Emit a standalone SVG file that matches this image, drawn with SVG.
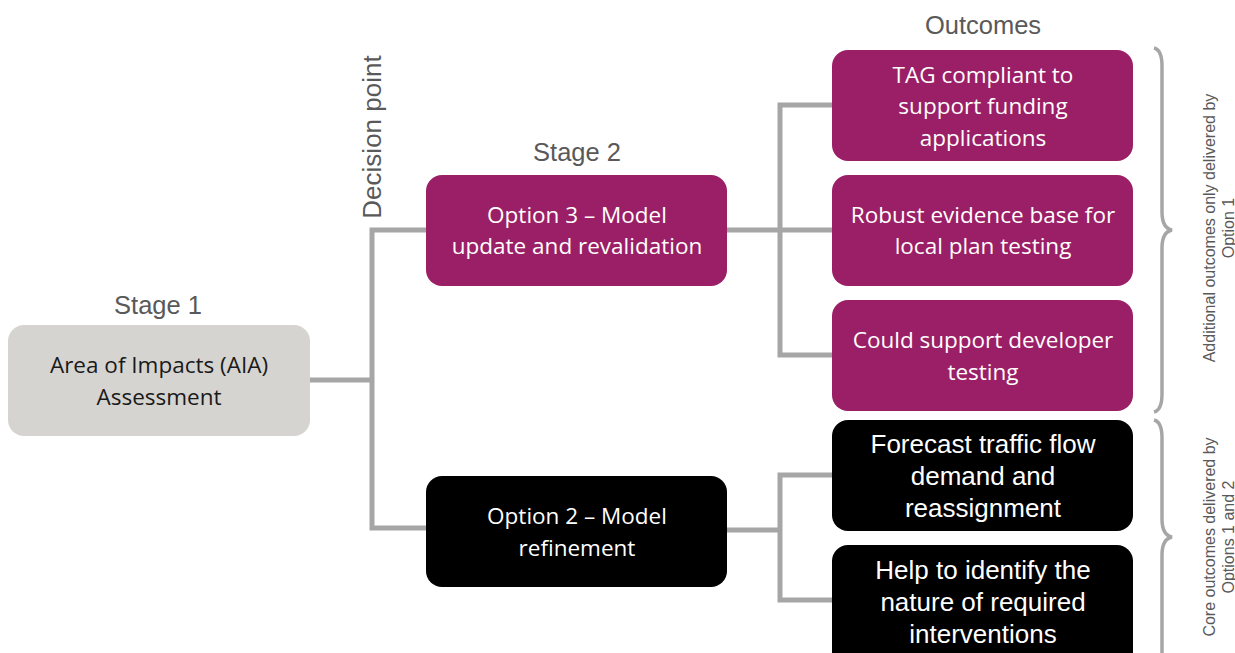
<svg xmlns="http://www.w3.org/2000/svg" width="1235" height="653" viewBox="0 0 1235 653">
  <style>
    .lbl { font-family: "Liberation Sans", Arial, sans-serif; fill: #595959; text-anchor: middle; }
    .stage { font-size: 25.5px; }
    .side { font-size: 16px; }
    .box-grey { fill: #d6d4d0; }
    .box-mag { fill: #9b1f66; }
    .box-blk { fill: #000000; }
    .t-calibri { font-family: "Open Sans", "Noto Sans", sans-serif; font-size: 22.5px; text-anchor: middle; }
    .t-arial { font-family: "Liberation Sans", Arial, sans-serif; font-size: 26px; text-anchor: middle; fill: #ffffff; }
    .dark { fill: #1a1a1a; }
    .white { fill: #ffffff; }
    .conn { fill: none; stroke: #a6a6a6; stroke-width: 5; }
    .brace { fill: none; stroke: #a6a6a6; stroke-width: 3.5; }
  </style>

  <!-- Headings -->
  <text class="lbl stage" x="158" y="314">Stage 1</text>
  <text class="lbl stage" x="577" y="161">Stage 2</text>
  <text class="lbl stage" x="983" y="34">Outcomes</text>
  <text class="lbl stage" style="font-size:26px" transform="translate(381,137) rotate(-90)">Decision point</text>

  <!-- Connectors -->
  <g id="connectors">
    <path class="conn" d="M310,380 H372"/>
    <path class="conn" d="M427,230 H372 V528 H427"/>
    <path class="conn" d="M727,230 H833"/>
    <path class="conn" d="M833,105 H780 V355 H833"/>
    <path class="conn" d="M727,530 H780"/>
    <path class="conn" d="M833,475 H780 V600 H833"/>
  </g>

  <!-- Stage 1 -->
  <g id="aia">
    <rect class="box-grey" x="8" y="325" width="302" height="111" rx="16"/>
    <text class="t-calibri dark" x="159" y="373">Area of Impacts (AIA)</text>
    <text class="t-calibri dark" x="159" y="405">Assessment</text>
  </g>

  <!-- Stage 2 options -->
  <g id="option3">
    <rect class="box-mag" x="426" y="175" width="301" height="111" rx="16"/>
    <text class="t-calibri white" x="577" y="223">Option 3 – Model</text>
    <text class="t-calibri white" x="577" y="254">update and revalidation</text>
  </g>
  <g id="option2">
    <rect class="box-blk" x="426" y="476" width="301" height="111" rx="16"/>
    <text class="t-calibri white" x="577" y="524">Option 2 – Model</text>
    <text class="t-calibri white" x="577" y="556">refinement</text>
  </g>

  <!-- Outcomes -->
  <g id="outcome-tag">
    <rect class="box-mag" x="832" y="50" width="301" height="111" rx="16"/>
    <text class="t-calibri white" x="983" y="83">TAG compliant to</text>
    <text class="t-calibri white" x="983" y="114">support funding</text>
    <text class="t-calibri white" x="983" y="146">applications</text>
  </g>
  <g id="outcome-evidence">
    <rect class="box-mag" x="832" y="175" width="301" height="111" rx="16"/>
    <text class="t-calibri white" x="983" y="223">Robust evidence base for</text>
    <text class="t-calibri white" x="983" y="254">local plan testing</text>
  </g>
  <g id="outcome-developer">
    <rect class="box-mag" x="832" y="300" width="301" height="111" rx="16"/>
    <text class="t-calibri white" x="983" y="348">Could support developer</text>
    <text class="t-calibri white" x="983" y="380">testing</text>
  </g>
  <g id="outcome-forecast">
    <rect class="box-blk" x="832" y="420" width="301" height="111" rx="16"/>
    <text class="t-arial" x="983" y="453">Forecast traffic flow</text>
    <text class="t-arial" x="983" y="485">demand and</text>
    <text class="t-arial" x="983" y="517">reassignment</text>
  </g>
  <g id="outcome-interventions">
    <rect class="box-blk" x="832" y="545" width="301" height="125" rx="16"/>
    <text class="t-arial" x="983" y="579">Help to identify the</text>
    <text class="t-arial" x="983" y="611">nature of required</text>
    <text class="t-arial" x="983" y="643">interventions</text>
  </g>

  <!-- Braces -->
  <g id="brace-additional">
    <path class="brace" d="M1154,48 Q1162,50 1162,66 V212 Q1162,228 1172,230 Q1162,232 1162,248 V394 Q1162,410 1154,412"/>
    <text class="lbl side" transform="translate(1215,228) rotate(-90)">Additional outcomes only delivered by</text>
    <text class="lbl side" transform="translate(1234,228) rotate(-90)">Option 1</text>
  </g>
  <g id="brace-core">
    <path class="brace" d="M1154,420 Q1162,422 1162,438 V519 Q1162,535 1172,537 Q1162,539 1162,555 V653"/>
    <text class="lbl side" transform="translate(1215,537) rotate(-90)">Core outcomes delivered by</text>
    <text class="lbl side" transform="translate(1234,537) rotate(-90)">Options 1 and 2</text>
  </g>
</svg>
